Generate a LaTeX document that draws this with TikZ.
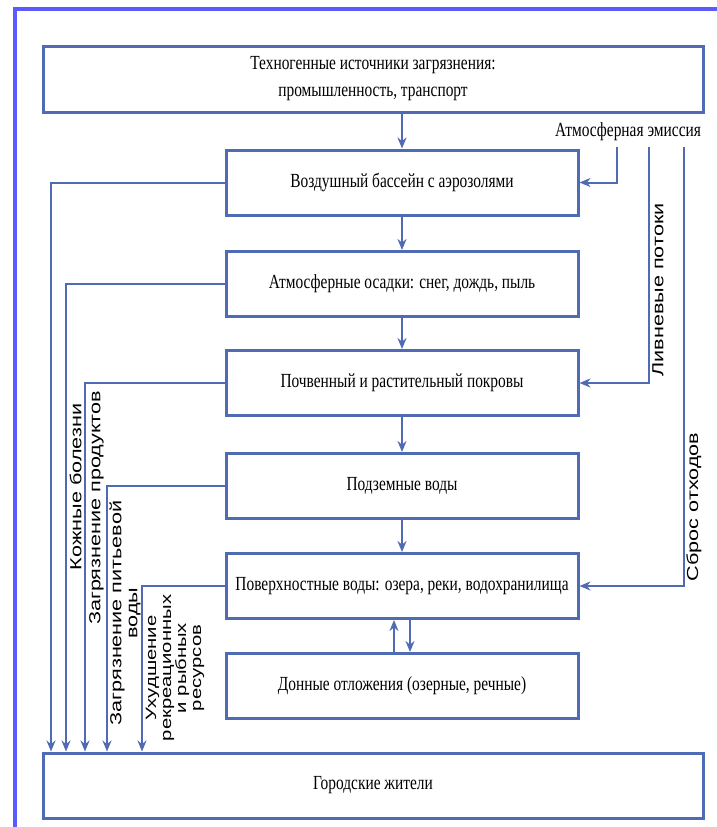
\documentclass[tikz,border=0pt]{standalone}
\usepackage{fontspec}
\setmainfont{Liberation Serif}
\newfontfamily\bxfont[FakeStretch=0.77]{Liberation Serif}
\newfontfamily\lblfont[FakeStretch=1.35]{Liberation Sans}
\usetikzlibrary{arrows.meta}
\definecolor{boxblue}{HTML}{4F6BB3}
\definecolor{frameblue}{HTML}{5A5AFF}
\begin{document}
\begin{tikzpicture}[x=1pt,y=-1pt,
  box/.style={draw=boxblue,line width=3pt,fill=white,inner sep=0pt,align=center,
    minimum width=352pt,minimum height=65pt,font=\bxfont\fontsize{20}{27}\selectfont},
  widebox/.style={box,minimum width=660pt,minimum height=66pt},
  conn/.style={draw=boxblue,line width=2pt},
  arr/.style={conn,-{Stealth[length=11pt,width=9pt]}},
  vlab/.style={rotate=90,align=center,inner sep=0pt,font=\lblfont\fontsize{16}{16}\selectfont},
  vlabs/.style={vlab,font=\lblfont\fontsize{15}{15}\selectfont}]
\useasboundingbox (0,0) rectangle (716,827);
\fill[white] (0,0) rectangle (716,827);
% frame
\draw[frameblue,line width=3.5pt] (15,830) -- (15,9) -- (720,9);
% boxes
\node[widebox] (top) at (373,79) {Техногенные источники загрязнения:\\промышленность, транспорт};
\node[box] (b2) at (402,182.5) {Воздушный бассейн с аэрозолями};
\node[box] (b3) at (402,284) {Атмосферные осадки: снег, дождь, пыль};
\node[box] (b4) at (402,383) {Почвенный и растительный покровы};
\node[box] (b5) at (402,486) {Подземные воды};
\node[box] (b6) at (402,586) {Поверхностные воды: озера, реки, водохранилища};
\node[box] (b7) at (402,686) {Донные отложения (озерные, речные)};
\node[widebox,minimum height=65pt] (bot) at (373,785.5) {Городские жители};
% main vertical chain
\draw[arr] (top.south -| b2.north) -- (b2.north);
\draw[arr] (b2.south) -- (b3.north);
\draw[arr] (b3.south) -- (b4.north);
\draw[arr] (b4.south) -- (b5.north);
\draw[arr] (b5.south) -- (b6.north);
\draw[arr] ([xshift=-8pt]b7.north) -- ([xshift=-8pt]b6.south);
\draw[arr] ([xshift=8pt]b6.south) -- ([xshift=8pt]b7.north);
% left columns
\coordinate (c1) at (51,0);
\coordinate (c2) at (66,0);
\coordinate (c3) at (85,0);
\coordinate (c4) at (107,0);
\coordinate (c5) at (142,0);
\draw[arr] (b2.west) -| (c1 |- bot.north);
\draw[arr] (b3.west) -| (c2 |- bot.north);
\draw[arr,line width=2.8pt] (b4.west) -| (c3 |- bot.north);
\draw[arr] (b5.west) -| (c4 |- bot.north);
\draw[arr] (b6.west) -| (c5 |- bot.north);
% left labels
\node[vlab] (l1) at (75.5,487) {Кожные болезни};
\node[vlab] (l2) at (96.5,508) {Загрязнение продуктов};
\node[vlab] (l3) at (125,613) {Загрязнение питьевой\\воды};
\node[vlabs] (l4) at (175,668) {Ухудшение\\рекреационных\\и рыбных\\ресурсов};
% right side
\node[font=\bxfont\fontsize{20}{22}\selectfont,inner sep=0pt] (emis) at (628,132) {Атмосферная эмиссия};
\coordinate (r1) at (617,147);
\coordinate (r2) at (649,147);
\coordinate (r3) at (684,147);
\draw[arr] (r1) |- (b2.east);
\draw[arr,line width=2.8pt] (r2) |- (b4.east);
\draw[arr] (r3) |- (b6.east);
\node[vlab] (l5) at (658,290) {Ливневые потоки};
\node[vlab] (l6) at (694,507) {Сброс отходов};
\end{tikzpicture}
\end{document}
